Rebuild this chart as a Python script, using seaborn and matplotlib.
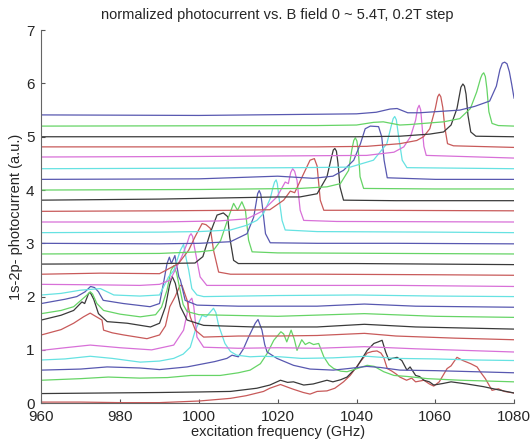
import matplotlib
matplotlib.use("Agg")
import matplotlib.pyplot as plt
import seaborn as sns
import pandas as pd

# field values (T); each trace is drawn shifted up by its own field value
fields = [round(0.2 * i, 1) for i in range(28)]

# normalized photocurrent readings (frequency GHz, value) per field
b00 = [(960,0.02),(970,0.02),(980,0.01),(990,0.01),(1000,0.04),(1008,0.09),(1012,0.14),(1016.4,0.22),(1018,0.28),(1020.7,0.35),(1022.5,0.30),(1024,0.26),(1026.5,0.20),(1028.2,0.17),(1030,0.22),(1032.5,0.23),(1034.5,0.28),(1036.7,0.40),(1038.4,0.52),(1041,0.78),(1042.7,0.94),(1044,0.97),(1045.2,0.98),(1046.2,0.94),(1046.9,0.86),(1047.8,0.65),(1049,0.60),(1050,0.55),(1051,0.49),(1052.7,0.43),(1054,0.47),(1055,0.40),(1057.1,0.43),(1058.5,0.36),(1059.6,0.32),(1061,0.40),(1063,0.65),(1064,0.70),(1065.5,0.86),(1067,0.80),(1068,0.77),(1069,0.74),(1070.6,0.68),(1071.5,0.58),(1072.7,0.46),(1074.4,0.24),(1076,0.27),(1077.5,0.22),(1080,0.19)]
b02 = [(960,-0.02),(975,-0.01),(990,0.0),(1000,0.01),(1008,0.02),(1014.7,0.08),(1018,0.14),(1020.7,0.23),(1022.5,0.19),(1024,0.20),(1026.6,0.14),(1029,0.16),(1031,0.20),(1032.5,0.23),(1034,0.20),(1036,0.24),(1037.6,0.29),(1040.1,0.48),(1042.7,0.79),(1044.4,0.92),(1045.5,0.95),(1046.5,0.98),(1047.4,0.76),(1048.2,0.61),(1049,0.64),(1050.3,0.66),(1051.5,0.60),(1052.8,0.42),(1053.6,0.48),(1055,0.32),(1056,0.30),(1057.1,0.23),(1058.5,0.20),(1059.6,0.14),(1062,0.17),(1064,0.20),(1068,0.16),(1072.2,0.11),(1076,0.05),(1080,-0.01)]
b04 = [(960,0.03),(970,0.06),(977,0.09),(985,0.07),(992,0.08),(998,0.12),(1005.4,0.12),(1010,0.17),(1013,0.22),(1015.6,0.34),(1017.3,0.53),(1019,0.78),(1020.8,0.94),(1021.5,0.90),(1022.3,0.75),(1023.4,0.97),(1024.2,0.80),(1024.9,0.59),(1026.1,0.79),(1027,0.70),(1028,0.74),(1029.1,0.70),(1030.4,0.72),(1031.7,0.47),(1033,0.32),(1034.2,0.25),(1036,0.20),(1037.6,0.19),(1040.2,0.25),(1042.7,0.31),(1044.5,0.29),(1046.9,0.19),(1049.5,0.12),(1053,0.10),(1058,0.06),(1066.4,0.03),(1080,0.0)]
b06 = [(960,0.02),(970,0.04),(976.7,0.08),(985,0.06),(990,0.03),(997,0.08),(1001.2,0.14),(1004,0.18),(1007.1,0.24),(1008.4,0.30),(1010,0.27),(1011.3,0.42),(1012.6,0.64),(1014.3,0.90),(1015,0.97),(1016,0.77),(1016.7,0.50),(1017.3,0.36),(1019.8,0.24),(1024,0.11),(1028.2,0.04),(1034.1,0.02),(1038,0.05),(1042.6,0.09),(1046,0.07),(1051,0.02),(1060,0.01),(1070,-0.01),(1080,-0.03)]
b08 = [(960,0.01),(966,0.03),(972.4,0.08),(978,0.04),(985.1,-0.03),(990,-0.01),(993.6,0.04),(996,0.12),(997.8,0.25),(999.1,0.57),(1000.8,0.85),(1001.8,0.82),(1003.7,0.98),(1004.3,0.90),(1005,0.66),(1006.6,0.32),(1008,0.17),(1009.6,0.10),(1013,0.07),(1016,0.08),(1020.6,0.07),(1026,0.04),(1034,0.05),(1042.6,0.08),(1050,0.04),(1060,0.03),(1070,0.01),(1080,0.0)]
b10 = [(960,-0.01),(966,0.04),(972.4,0.09),(980,0.04),(988,0.0),(993.6,0.09),(996.1,0.37),(997,0.68),(997.4,0.90),(998.2,0.97),(998.7,0.81),(999.5,0.24),(1001.2,0.05),(1010,0.03),(1020,0.04),(1030,0.03),(1042,0.06),(1055,0.02),(1080,-0.04)]
b12 = [(960,0.08),(965,0.18),(968.2,0.30),(970.7,0.42),(972.4,0.49),(974,0.42),(975.4,0.36),(975.8,0.17),(978,0.12),(980.9,0.08),(986.8,0.01),(990,0.08),(991.5,0.25),(992.6,0.61),(993.9,0.79),(995.2,1.01),(995.7,1.01),(997,0.73),(997.8,0.42),(999.1,0.17),(1001.2,0.04),(1010,0.06),(1020,0.06),(1030,0.07),(1042,0.11),(1050,0.06),(1065,0.02),(1080,-0.01)]
b14 = [(960,0.16),(965,0.25),(968.2,0.34),(970.3,0.50),(971,0.47),(972,0.66),(972.4,0.68),(973.3,0.55),(974.5,0.28),(976.7,0.13),(981.8,0.10),(987.7,0.03),(990,0.10),(991.5,0.41),(992.5,0.80),(993.2,0.98),(994,0.85),(995.3,0.41),(997,0.16),(1001.2,0.06),(1013.9,0.03),(1030,0.03),(1042,0.08),(1055,0.03),(1080,-0.01)]
b16 = [(960,0.08),(965,0.14),(968.2,0.21),(971.6,0.43),(972.4,0.49),(973,0.45),(974.1,0.27),(975.8,0.14),(980,0.07),(985.1,0.02),(989,0.06),(990.5,0.20),(991.9,0.52),(992.9,0.89),(993.6,0.98),(994.3,0.85),(995,0.60),(996,0.25),(997,0.12),(1000,0.06),(1020,0.03),(1042,0.08),(1060,0.03),(1080,0.01)]
b18 = [(960,0.07),(966,0.15),(969,0.20),(971.1,0.29),(972.5,0.39),(973.5,0.37),(974.5,0.29),(975.7,0.13),(980.8,0.07),(987.6,0.01),(990,0.07),(991,0.45),(991.9,0.82),(992.5,0.94),(993,0.82),(993.9,0.97),(994.9,0.57),(995.3,0.51),(996.5,0.13),(999.5,0.04),(1010,0.02),(1030,0.02),(1042,0.06),(1055,0.02),(1080,0.0)]
b20 = [(960,0.03),(965,0.06),(969.9,0.12),(975,0.15),(978.4,0.03),(985,0.01),(990,0.03),(992.3,0.37),(993.6,0.49),(995.3,0.87),(996.1,0.98),(996.8,0.70),(997.4,0.50),(998.2,0.15),(999.5,0.03),(1001.2,0.0),(1020,0.02),(1040,0.03),(1060,0.01),(1080,0.0)]
b22 = [(960,0.03),(975,0.02),(985,0.01),(990,0.03),(992.7,0.11),(995.6,0.54),(997,0.80),(997.6,0.94),(998,0.98),(998.4,0.93),(998.8,0.75),(1000.3,0.17),(1002,0.01),(1020,0.01),(1050,0.01),(1080,-0.01)]
b24 = [(960,0.02),(975,0.04),(990,0.03),(994.8,0.22),(997.4,0.47),(999,0.72),(1000.8,0.97),(1001.8,0.95),(1002.9,0.88),(1003.7,0.47),(1005,0.06),(1008,0.02),(1030,0.02),(1060,0.01),(1080,0.0)]
b26 = [(960,0.01),(990,0.02),(999,0.03),(1001,0.15),(1002.9,0.60),(1004.6,0.93),(1006.2,0.97),(1007.3,0.90),(1007.8,0.52),(1008.8,0.08),(1010,0.02),(1040,0.02),(1080,0.0)]
b28 = [(960,0.0),(990,0.01),(1000,0.04),(1003.7,0.07),(1005.5,0.25),(1007.5,0.69),(1008.8,0.95),(1009.8,0.82),(1010.9,0.98),(1011.8,0.82),(1012.6,0.26),(1013.5,0.04),(1020,0.02),(1050,0.01),(1080,0.0)]
b30 = [(960,0.0),(990,-0.01),(1000,0.0),(1008,0.03),(1012.2,0.18),(1013.9,0.49),(1014.5,0.75),(1014.9,0.93),(1015.3,0.99),(1015.7,0.92),(1016.1,0.70),(1016.9,0.18),(1018.1,0.01),(1030,0.0),(1050,0.0),(1080,-0.01)]
b32 = [(960,0.0),(990,0.01),(1000,0.02),(1008,0.05),(1012.2,0.14),(1014.7,0.23),(1016.4,0.36),(1018.1,0.64),(1018.8,0.85),(1019.2,0.95),(1019.6,0.99),(1019.9,0.92),(1020.3,0.67),(1021.1,0.23),(1021.9,0.05),(1030,0.02),(1060,0.01),(1080,0.0)]
b34 = [(960,0.0),(990,0.0),(1005,0.02),(1012.2,0.06),(1016,0.20),(1019.8,0.47),(1021.9,0.75),(1022.7,0.72),(1023.3,0.93),(1023.8,1.00),(1024.3,0.95),(1024.9,0.78),(1025.7,0.22),(1026.6,0.03),(1035,0.01),(1080,0.0)]
b36 = [(960,0.0),(990,0.01),(1010,0.02),(1018,0.03),(1021.5,0.21),(1023.2,0.38),(1024.3,0.35),(1026.6,0.71),(1028.2,0.96),(1029.3,0.99),(1030,0.85),(1030.8,0.21),(1031.7,0.02),(1040,0.02),(1080,0.01)]
b38 = [(960,0.01),(990,0.03),(1020,0.07),(1025.6,0.07),(1030,0.13),(1032.5,0.45),(1033.6,0.80),(1034.1,0.95),(1034.5,0.98),(1034.9,0.93),(1035.3,0.70),(1035.8,0.26),(1036.7,0.01),(1050,0.0),(1080,0.0)]
b40 = [(960,0.0),(1000,0.01),(1025.6,0.03),(1032.5,0.06),(1035.9,0.12),(1038,0.37),(1038.8,0.75),(1039.3,0.93),(1039.7,0.98),(1040.1,0.92),(1040.5,0.70),(1040.9,0.25),(1041.8,0.03),(1060,0.02),(1080,0.02)]
b42 = [(960,0.0),(1000,0.01),(1020,0.06),(1029,0.02),(1034,0.06),(1036.7,0.17),(1039.3,0.36),(1041,0.67),(1042.2,0.95),(1043.5,1.00),(1045.6,0.99),(1046.4,0.80),(1047,0.36),(1047.8,0.03),(1060,0.0),(1080,0.0)]
b44 = [(960,0.0),(1000,0.01),(1025.6,0.02),(1038.4,0.03),(1044.3,0.16),(1047.7,0.47),(1048.8,0.80),(1049.3,0.94),(1049.7,0.98),(1050.1,0.92),(1050.7,0.60),(1051.6,0.16),(1052.8,0.02),(1080,0.0)]
b46 = [(960,0.02),(1000,0.03),(1042.6,0.05),(1046,0.08),(1049.5,0.11),(1052,0.21),(1053.7,0.40),(1055,0.71),(1055.5,0.93),(1055.9,0.99),(1056.3,0.90),(1056.7,0.55),(1057.1,0.22),(1057.7,0.05),(1080,0.0)]
b48 = [(960,0.01),(1030,0.01),(1042.6,0.02),(1051,0.07),(1055.3,0.13),(1057,0.20),(1058.6,0.35),(1060,0.73),(1060.6,0.95),(1061,1.00),(1061.4,0.95),(1061.9,0.75),(1062.4,0.38),(1063.1,0.07),(1064.6,0.03),(1080,0.0)]
b50 = [(960,0.0),(1040,0.0),(1051,0.01),(1058.6,0.05),(1062.1,0.09),(1064,0.22),(1065.5,0.53),(1066.5,0.93),(1067,0.99),(1067.4,0.95),(1067.8,0.80),(1068.3,0.40),(1069,0.09),(1070.3,0.01),(1080,0.0)]
b52 = [(960,0.0),(1030,0.01),(1040,0.02),(1044.3,0.07),(1046.8,0.08),(1051,0.02),(1053.6,0.03),(1062.1,0.08),(1066.2,0.14),(1068.9,0.33),(1070.5,0.64),(1071.5,0.90),(1071.9,0.97),(1072.3,1.00),(1072.7,0.93),(1073.1,0.70),(1073.6,0.27),(1074.4,0.05),(1076,0.01),(1080,0.0)]
b54 = [(960,0.01),(1000,0.0),(1040,0.03),(1045,0.06),(1048.5,0.12),(1050.3,0.13),(1053,0.05),(1056,0.05),(1060,0.07),(1066.2,0.10),(1070,0.17),(1073.8,0.27),(1075.5,0.55),(1076.4,0.86),(1077,0.98),(1077.6,1.00),(1078.2,0.97),(1078.8,0.82),(1079.4,0.58),(1080,0.32)]

traces = [b00, b02, b04, b06, b08, b10, b12, b14, b16, b18, b20, b22, b24, b26,
          b28, b30, b32, b34, b36, b38, b40, b42, b44, b46, b48, b50, b52, b54]

# matlab-ish colour order as it shows in the picture: r, k, g, b, c, m
line_colors = ["#c85a5a", "#3a3a3a", "#66d466", "#5858b0", "#66e2e2", "#d870d8"]

rows = []
for b, tr in zip(fields, traces):
    for f, v in tr:
        rows.append({"freq": f, "signal": v + b, "field": f"{b:.1f}T"})
df = pd.DataFrame(rows)
palette = {f"{b:.1f}T": line_colors[i % 6] for i, b in enumerate(fields)}

sns.set_style("ticks")
plt.rcParams["font.family"] = ["Liberation Sans", "DejaVu Sans"]
plt.rcParams["xtick.direction"] = "in"
plt.rcParams["ytick.direction"] = "in"

fig = plt.figure(figsize=(5.3, 4.44), dpi=100)
ax = fig.add_axes([0.078, 0.092, 0.892, 0.840])

sns.lineplot(data=df, x="freq", y="signal", hue="field", palette=palette,
             estimator=None, sort=False, legend=False, linewidth=0.9, ax=ax)

ax.set_xlim(960, 1080)
ax.set_ylim(0, 7)
ax.set_xticks(range(960, 1081, 20))
ax.set_yticks(range(0, 8))
ax.tick_params(labelsize=11, length=3, color="#555555")
ax.tick_params(axis="x", pad=5)
ax.tick_params(axis="y", pad=5)
for s in ["top", "right"]:
    ax.spines[s].set_visible(False)
for s in ["left", "bottom"]:
    ax.spines[s].set_color("#666666")
    ax.spines[s].set_linewidth(0.8)

ax.set_title("normalized photocurrent vs. B field 0 ~ 5.4T, 0.2T step", fontsize=10.5, pad=8)
ax.set_xlabel("excitation frequency (GHz)", fontsize=10.5, labelpad=1)
ax.set_ylabel("1s-2p- photocurrent (a.u.)", fontsize=10.5, labelpad=2)

fig.savefig("out.png", dpi=100)
